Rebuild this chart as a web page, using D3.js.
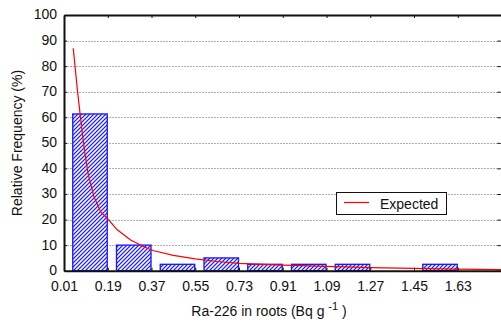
<!DOCTYPE html>
<html><head><meta charset="utf-8">
<script src="https://cdn.jsdelivr.net/npm/d3@7"></script>
<style>
html,body{margin:0;padding:0;background:#fff;}
svg text{font-family:"Liberation Sans",Arial,sans-serif;fill:#111;}
</style></head><body>
<svg id="c" width="501" height="326"></svg>
<script>
const binEdges = [0.01,0.19,0.37,0.55,0.73,0.91,1.09,1.27,1.45,1.63,1.81];
const binFreq  = [61.3,10,2.5,5,2.5,2.5,2.5,0,2.5,0];
const xTickLabels = ["0.01","0.19","0.37","0.55","0.73","0.91","1.09","1.27","1.45","1.63"];
const yTicks = [0,10,20,30,40,50,60,70,80,90,100];
const expX = [0.048,0.065,0.079,0.092,0.109,0.133,0.161,0.188,0.229,0.284,0.352,0.38,0.46,0.55,0.64,0.73,0.91,1.09,1.27,1.45,1.63,1.81];
const expY = [87,70.7,59,48.5,38,29,23,20.5,16,12,8.8,7.8,6,4.6,3.6,2.9,2.2,1.7,1.2,0.9,0.6,0.4];

const svg = d3.select("#c");
const L=64, R=501.5, T=15, B=270.7;
const FS = 14;
const x = d3.scaleLinear().domain([0.01,1.81]).range([L,R]);
const y = d3.scaleLinear().domain([0,100]).range([B,T]);

// pattern
const defs = svg.append("defs");
const pat = defs.append("pattern").attr("id","hatch").attr("patternUnits","userSpaceOnUse")
  .attr("width",4).attr("height",4);
pat.append("rect").attr("width",4).attr("height",4).attr("fill","#a8a8ff");
[[0,3],[1,2],[2,1],[3,0]].forEach(([a,b])=>
  pat.append("rect").attr("x",a).attr("y",b).attr("width",1).attr("height",1).attr("fill","#2020ff"));
[[2,3],[0,1],[3,2],[1,0]].forEach(([a,b])=>
  pat.append("rect").attr("x",a).attr("y",b).attr("width",1).attr("height",1).attr("fill","#ffffff"));

// grid
svg.append("g").selectAll("line").data(yTicks.filter(d=>d>0&&d<100)).join("line")
  .attr("x1",L).attr("x2",R).attr("y1",d=>Math.round(y(d))+0.5).attr("y2",d=>Math.round(y(d))+0.5)
  .attr("stroke","#b0b0b0").attr("stroke-width",1).attr("stroke-dasharray","2,1");

// bars
const bins = binFreq.map((f,i)=>({lo:binEdges[i],hi:binEdges[i+1],f}));
svg.append("g").selectAll("rect").data(bins).join("rect")
  .attr("x",d=>x(d.lo)+0.2*(x(d.hi)-x(d.lo)))
  .attr("width",d=>0.8*(x(d.hi)-x(d.lo))-0.5)
  .attr("y",d=>y(d.f))
  .attr("height",d=>Math.max(0,B-y(d.f)))
  .attr("fill","url(#hatch)").attr("stroke","#1414ff").attr("stroke-width",1.3);

// curve
svg.append("path").datum(expX.map((v,i)=>[v,expY[i]]))
  .attr("d",d3.line().x(d=>x(d[0])).y(d=>y(d[1])))
  .attr("fill","none").attr("stroke","#ff0000").attr("stroke-width",1.2);

// axes
const tickVals = binEdges.slice(0,10);
const xb = svg.append("g").attr("transform",`translate(0,${B})`)
  .call(d3.axisBottom(x).tickValues(tickVals).tickFormat((d,i)=>xTickLabels[i]).tickSizeInner(-3).tickSizeOuter(0).tickPadding(10));
const xt = svg.append("g").attr("transform",`translate(0,${T})`)
  .call(d3.axisTop(x).tickValues(tickVals).tickFormat("").tickSizeInner(-3).tickSizeOuter(0));
const yl = svg.append("g").attr("transform",`translate(${L},0)`)
  .call(d3.axisLeft(y).tickValues(yTicks).tickSizeInner(-3).tickSizeOuter(0).tickPadding(7));
yl.selectAll(".tick text").attr("dy","0.28em");
const yr = svg.append("g").attr("transform",`translate(${R-1},0)`)
  .call(d3.axisRight(y).tickValues(yTicks).tickFormat("").tickSizeInner(-3).tickSizeOuter(0));
[xb,xt,yl,yr].forEach(g=>{
  g.select(".domain").attr("stroke","#111").attr("stroke-width",2);
  g.selectAll(".tick line").attr("stroke","#111");
  g.selectAll("text").attr("font-size",FS).attr("font-family","Liberation Sans, Arial, sans-serif").attr("fill","#111");
});
yr.select(".domain").remove();

// titles
svg.append("text").attr("transform","translate(22,143) rotate(-90)").attr("text-anchor","middle")
  .attr("font-size",FS).text("Relative Frequency (%)");
const xt2 = svg.append("text").attr("x",269).attr("y",316).attr("text-anchor","middle").attr("font-size",FS);
xt2.append("tspan").text("Ra-226 in roots (Bq g ");
xt2.append("tspan").attr("dy",-6).attr("font-size",11).text("-1");
xt2.append("tspan").attr("dy",6).text(" )");

// legend
const lg = svg.append("g");
lg.append("rect").attr("x",336.5).attr("y",192.5).attr("width",110).attr("height",22)
  .attr("fill","#fff").attr("stroke","#111").attr("stroke-width",1);
lg.append("line").attr("x1",344).attr("x2",369).attr("y1",202.5).attr("y2",202.5).attr("stroke","#ff0000").attr("stroke-width",1.2);
lg.append("text").attr("x",380).attr("y",208.5).attr("font-size",FS).text("Expected");
</script>
</body></html>
